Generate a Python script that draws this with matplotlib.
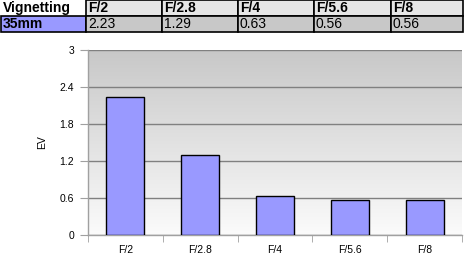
import numpy as np
import matplotlib.pyplot as plt
from matplotlib.patches import Rectangle
from matplotlib.colors import LinearSegmentedColormap

plt.rcParams['font.family'] = ['Liberation Sans', 'DejaVu Sans']

apertures = ["F/2", "F/2.8", "F/4", "F/5.6", "F/8"]
ev_values = [2.23, 1.29, 0.63, 0.56, 0.56]
lens_label = "35mm"
table_title = "Vignetting"
yticks = [0, 0.6, 1.2, 1.8, 2.4, 3]
ytick_labels = ["0", "0.6", "1.2", "1.8", "2.4", "3"]

W, H = 474, 269
fig = plt.figure(figsize=(W / 100, H / 100), dpi=100)
fig.patch.set_facecolor("white")

# ---- table at the top (pixel coords) ----
tab = fig.add_axes([0, 0, 1, 1])
tab.set_xlim(0, W)
tab.set_ylim(H, 0)
tab.axis("off")

col_edges = [1, 86, 162, 238, 314, 391, 463]
rows = [(0, 15.5), (15.5, 32)]
header = [table_title] + apertures
values = [lens_label] + ["%.2f" % v for v in ev_values]
for r, (y0, y1) in enumerate(rows):
    for c in range(len(col_edges) - 1):
        x0, x1 = col_edges[c], col_edges[c + 1]
        if r == 0:
            fc = "white" if c == 0 else "#e6e6e6"
        else:
            fc = "#9999ff" if c == 0 else "#c8c8c8"
        edge = "none" if (r == 0 and c == 0) else "black"
        tab.add_patch(Rectangle((x0, y0), x1 - x0, y1 - y0, facecolor=fc,
                                edgecolor=edge, linewidth=1.2))
        txt = header[c] if r == 0 else values[c]
        bold = (r == 0) or c == 0
        tab.text(x0 + 2, (y0 + y1) / 2 + 0.5, txt, ha="left", va="center",
                 fontsize=10, fontweight="bold" if bold else "normal", color="black")

# ---- bar chart ----
left, right, top, bottom = 88, 462, 50, 235
ax = fig.add_axes([left / W, 1 - bottom / H, (right - left) / W, (bottom - top) / H])
x = np.arange(len(apertures))
ax.set_xlim(-0.5, len(apertures) - 0.5)
ax.set_ylim(0, 3)

grad = np.linspace(0.0, 1.0, 256).reshape(-1, 1)
cmap = LinearSegmentedColormap.from_list("bg", ["#fbfbfb", "#c8c8c8"])
ax.imshow(grad, aspect="auto", cmap=cmap, extent=(-0.5, len(apertures) - 0.5, 0, 3),
          origin="lower", zorder=0)

for yv in yticks:
    ax.axhline(yv, color="#808080", linewidth=1, zorder=1)

ax.bar(x, ev_values, width=0.51, color="#9999ff", edgecolor="black", linewidth=1, zorder=3)

ax.set_yticks(yticks)
ax.set_yticklabels(ytick_labels)
ax.set_xticks(x)
ax.set_xticklabels(apertures)
ax.set_xticks(np.arange(len(apertures) + 1) - 0.5, minor=True)
ax.tick_params(axis="x", which="major", length=0, pad=7, labelsize=7.5)
ax.tick_params(axis="x", which="minor", length=5, color="#a0a0a0", direction="out")
ax.tick_params(axis="y", length=6, color="#a0a0a0", labelsize=7.5, pad=4)

for s in ["top", "right"]:
    ax.spines[s].set_visible(False)
for s in ["left", "bottom"]:
    ax.spines[s].set_color("#a0a0a0")
    ax.spines[s].set_linewidth(1)

ax.set_ylabel("EV", fontsize=7.5, labelpad=9)

fig.savefig("out.png", dpi=100)
